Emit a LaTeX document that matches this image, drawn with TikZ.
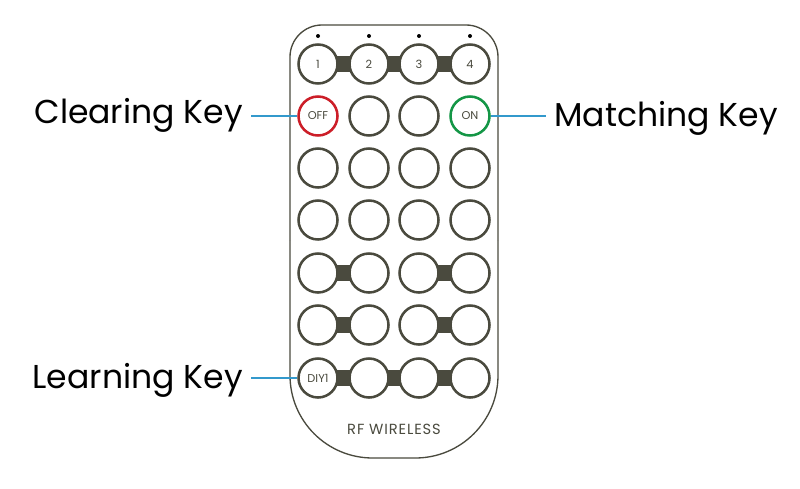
\documentclass[tikz,border=0pt]{standalone}
\usepackage{fontspec}
\setmainfont{Poppins}
\usetikzlibrary{positioning}
\definecolor{RemoteGray}{RGB}{74,74,62}
\definecolor{LeaderBlue}{RGB}{51,153,204}
\definecolor{OffRed}{RGB}{204,30,40}
\definecolor{OnGreen}{RGB}{20,150,70}

\begin{document}
\begin{tikzpicture}[x=0.75pt, y=-0.75pt,
  every node/.style={font=\fontsize{8.5}{10}\selectfont, text=RemoteGray},
  key/.style={circle, draw=RemoteGray, line width=1.9pt, fill=white,
              minimum size=29.25pt, inner sep=0pt},
  bridge/.style={RemoteGray, line width=12pt},
  leader/.style={draw=LeaderBlue, line width=0.8pt},
  callout/.style={font=\fontsize{24.8}{28}\selectfont, text=black, inner xsep=6pt}]
  \useasboundingbox (0,0) rectangle (800,489);
  % remote body
  \draw[RemoteGray, line width=1pt, rounded corners=24pt]
    (290,240) -- (290,25) -- (498,25) -- (498,240);
  \draw[RemoteGray, line width=1pt, rounded corners=62pt]
    (498,240) -- (498,458) -- (290,458) -- (290,240);
  % key grid
  \foreach \r/\y in {1/64,2/116,3/168,4/220,5/273,6/325,7/378}
    \foreach \c/\x in {1/318,2/369,3/419,4/470}
      \coordinate (p\r\c) at (\x,\y);
  \foreach \a/\b in {11/12,12/13,13/14,51/52,53/54,61/62,63/64,71/72,72/73,73/74}
    \draw[bridge] (p\a) -- (p\b);
  \foreach \c/\t in {1/1,2/2,3/3,4/4}{
    \node[key] (k1\c) at (p1\c) {\t};
    \fill[black] (p1\c) ++(0,-28) circle (1.5pt);
  }
  \node[key, draw=OffRed] (k21) at (p21) {OFF};
  \node[key] (k22) at (p22) {};
  \node[key] (k23) at (p23) {};
  \node[key, draw=OnGreen] (k24) at (p24) {ON};
  \foreach \r in {3,...,6}
    \foreach \c in {1,...,4}
      \node[key] (k\r\c) at (p\r\c) {};
  \node[key] (k71) at (p71) {DIY1};
  \foreach \c in {2,3,4}
    \node[key] (k7\c) at (p7\c) {};
  \node[font=\fontsize{11}{13}\selectfont\addfontfeature{LetterSpace=6}]
    (brand) at (394,429) {RF WIRELESS};
  % callouts
  \node[callout, anchor=base east] (clear) at (251,123) {Clearing Key};
  \node[callout, anchor=base west] (match) at (546,126) {Matching Key};
  \node[callout, anchor=base east] (learn) at (251,388) {Learning Key};
  \draw[leader] (clear.east |- k21.west) -- (k21.west);
  \draw[leader] (k24.east) -- (match.west |- k24.east);
  \draw[leader] (learn.east |- k71.west) -- (k71.west);
\end{tikzpicture}
\end{document}
